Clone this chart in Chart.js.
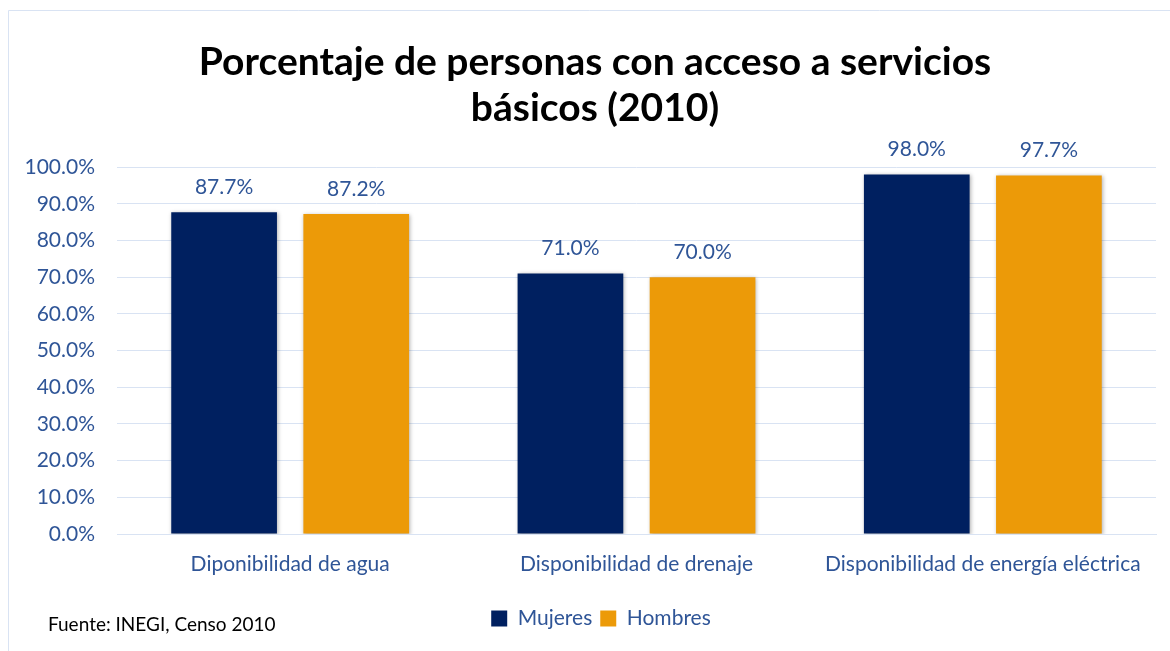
<!DOCTYPE html>
<html>
<head>
<meta charset="utf-8">
<script src="https://cdn.jsdelivr.net/npm/chart.js@4"></script>
<style>
  html, body { margin: 0; padding: 0; background: #fff; }
  #wrap { width: 1170px; height: 651px; }
</style>
</head>
<body>
<div id="wrap"><canvas id="chart"></canvas></div>
<script>
const categories = ["Diponibilidad de agua", "Disponibilidad de drenaje", "Disponibilidad de energía eléctrica"];
const mujeres = [87.7, 71.0, 98.0];
const hombres = [87.2, 70.0, 97.7];
const seriesNames = ["Mujeres", "Hombres"];
const titleLines = ["Porcentaje de personas con acceso a servicios", "básicos (2010)"];
const sourceNote = "Fuente: INEGI, Censo 2010";

const FONT = "Lato, 'Liberation Sans', sans-serif";
const TEXT_BLUE = "#2F5597";
const GRID = "#D9E3F3";

// marco, sombras de barras, etiquetas de datos y nota de fuente
const extras = {
    id: "extras",
    afterLayout(chart) {
        // el título y la leyenda están algo desplazados a la derecha
        chart.titleBlock.left += 12;
        chart.titleBlock.right += 12;
        chart.legend.left += 18;
        chart.legend.right += 18;
    },
    beforeDraw(chart) {
        const c = chart.ctx;
        c.save();
        c.strokeStyle = GRID;
        c.lineWidth = 1;
        c.beginPath();
        c.moveTo(8.5, chart.height);
        c.lineTo(8.5, 10.5);
        c.lineTo(chart.width, 10.5);
        c.stroke();
        c.restore();
    },
    beforeDatasetDraw(chart) {
        const c = chart.ctx;
        c.save();
        c.shadowColor = "rgba(0,0,0,0.3)";
        c.shadowBlur = 4;
        c.shadowOffsetX = 1;
        c.shadowOffsetY = 1;
    },
    afterDatasetDraw(chart) {
        chart.ctx.restore();
    },
    afterDatasetsDraw(chart) {
        const c = chart.ctx;
        c.save();
        c.font = "21px " + FONT;
        c.fillStyle = TEXT_BLUE;
        c.textAlign = "center";
        c.textBaseline = "middle";
        chart.data.datasets.forEach((ds, i) => {
            chart.getDatasetMeta(i).data.forEach((bar, j) => {
                c.fillText(ds.data[j].toFixed(1) + "%", bar.x, bar.y - 25);
            });
        });
        c.font = "19px " + FONT;
        c.fillStyle = "#000";
        c.textAlign = "left";
        c.fillText(sourceNote, 48, 625);
        c.restore();
    }
};

new Chart(document.getElementById("chart"), {
    type: "bar",
    data: {
        labels: categories,
        datasets: [{
            label: seriesNames[0],
            data: mujeres,
            backgroundColor: "#002060"
        }, {
            label: seriesNames[1],
            data: hombres,
            backgroundColor: "#EC9A08"
        }]
    },
    options: {
        responsive: true,
        maintainAspectRatio: false,
        animation: false,
        datasets: { bar: { categoryPercentage: 0.763, barPercentage: 0.80 } },
        layout: { padding: { left: 10, right: 14, top: 10, bottom: 12 } },
        plugins: {
            title: {
                display: true,
                text: titleLines,
                color: "#000",
                font: { family: FONT, size: 39, weight: "bold", lineHeight: 1.18 },
                padding: { top: 29, bottom: 36 }
            },
            legend: {
                position: "bottom",
                labels: {
                    color: TEXT_BLUE,
                    font: { family: FONT, size: 21 },
                    boxWidth: 16,
                    boxHeight: 16,
                    padding: 8
                }
            },
            tooltip: { enabled: false }
        },
        scales: {
            x: {
                grid: { display: false },
                border: { color: GRID },
                ticks: { color: TEXT_BLUE, font: { family: FONT, size: 21 }, padding: 10 },
                afterFit(scale) { scale.height = 66; }
            },
            y: {
                min: 0,
                max: 100,
                grid: { color: GRID, drawTicks: false },
                border: { display: false },
                ticks: {
                    stepSize: 10,
                    color: TEXT_BLUE,
                    font: { family: FONT, size: 21 },
                    padding: 22,
                    callback: v => v.toFixed(1) + "%"
                },
                afterFit(scale) { scale.width = 107; }
            }
        }
    },
    plugins: [extras]
});
</script>
</body>
</html>
